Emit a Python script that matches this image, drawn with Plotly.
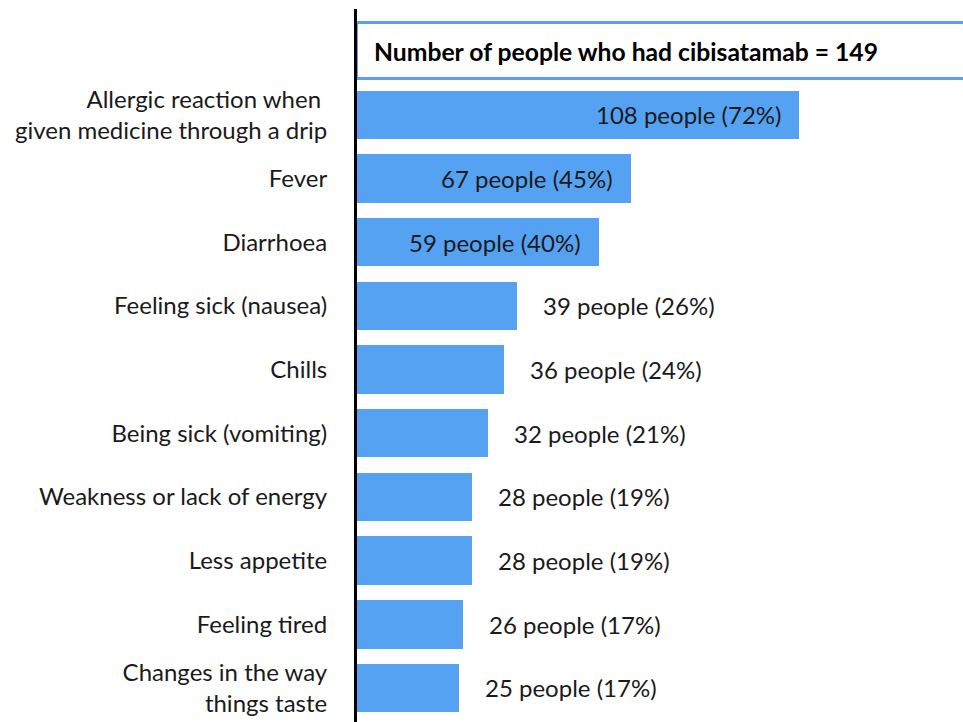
import plotly.graph_objects as go

# Side effects reported by people who had cibisatamab
total_people = 149
header_text = "Number of people who had cibisatamab = 149"
categories = [
    "Allergic reaction when <br>given medicine through a drip",
    "Fever",
    "Diarrhoea",
    "Feeling sick (nausea)",
    "Chills",
    "Being sick (vomiting)",
    "Weakness or lack of energy",
    "Less appetite",
    "Feeling tired",
    "Changes in the way<br>things taste",
]
counts = [108, 67, 59, 39, 36, 32, 28, 28, 26, 25]
percents = [72, 45, 40, 26, 24, 21, 19, 19, 17, 17]

BAR_BLUE = "#55a2f3"
TEXT = "#1a1a1a"
FONT = "Lato"

rows = list(range(1, len(categories) + 1))
labels = [f"{c} people ({p}%)" for c, p in zip(counts, percents)]

fig = go.Figure()

# Header box: a white bar spanning the total number of people
fig.add_trace(go.Bar(
    x=[total_people], y=[0], orientation="h", width=0.87,
    marker=dict(color="white", line=dict(color="#5a9ff0", width=3)),
    hoverinfo="skip", showlegend=False,
))

# Side-effect bars
fig.add_trace(go.Bar(
    x=counts, y=rows, orientation="h", width=0.76,
    marker=dict(color=BAR_BLUE, line=dict(width=0)),
    showlegend=False,
))

annotations = [dict(
    x=0, y=0, xref="x", yref="y", text=f"<b>{header_text}</b>",
    xanchor="left", yanchor="middle", xshift=15, showarrow=False,
    font=dict(family=FONT, size=24.7, color="black"),
)]
for r, c, lab in zip(rows, counts, labels):
    inside = c > 50
    annotations.append(dict(
        x=c, y=r, xref="x", yref="y", text=lab, showarrow=False,
        xanchor="right" if inside else "left", yanchor="middle",
        xshift=-16 if inside else 24,
        font=dict(family=FONT, size=24, color=TEXT),
    ))

fig.update_layout(
    width=963, height=722,
    margin=dict(l=357, r=0, t=9, b=0),
    paper_bgcolor="white", plot_bgcolor="white",
    annotations=annotations,
    bargap=0,
    xaxis=dict(range=[0, 148], visible=False, fixedrange=True),
    yaxis=dict(
        range=[10.534, -0.66],
        tickmode="array", tickvals=rows, ticktext=categories,
        showline=True, linecolor="black", linewidth=3,
        showgrid=False, zeroline=False, ticks="",
        ticklabelstandoff=22,
        tickfont=dict(family=FONT, size=24, color=TEXT),
    ),
)

fig.write_html("out.html")
